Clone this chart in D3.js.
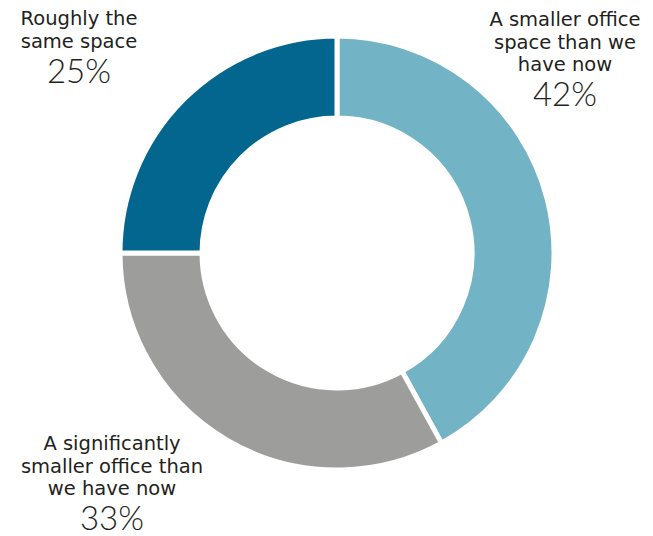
<!DOCTYPE html>
<html>
<head>
<meta charset="utf-8">
<script src="https://d3js.org/d3.v7.min.js"></script>
<style>
  body { margin: 0; background: #fff; }
  text { fill: #231f20; }
  .lbl { font-family: "DejaVu Sans", "Noto Sans", sans-serif; }
  .pct { font-family: Lato, "Noto Sans", sans-serif; }
</style>
</head>
<body>
<div id="chart"></div>
<script>
// slices in clockwise order starting at 12 o'clock
var categories = ['A smaller office space than we have now', 'A significantly smaller office than we have now', 'Roughly the same space']
var values = [42, 33, 25]
var colors = ['#72b3c5', '#9d9d9c', '#03668f']
// label lines, broken as in the picture
var labelLines = [
    ['A smaller office', 'space than we', 'have now'],
    ['A significantly', 'smaller office than', 'we have now'],
    ['Roughly the', 'same space']
]

var width = 653, height = 536
var cx = 337, cy = 253
var outerR = 217, innerR = 135

var svg = d3.select("#chart")
            .append("svg")
            .attr("width", width)
            .attr("height", height)

var g = svg.append("g")
            .attr("transform", "translate(" + cx + "," + cy + ")")

var pie = d3.pie()
            .sort(null)
            .value(function(d){ return d.value })

var arc = d3.arc()
            .innerRadius(innerR)
            .outerRadius(outerR)

var data = categories.map(function(c, i){ return {key: c, value: values[i], color: colors[i]} })

g.selectAll(".slice")
    .data(pie(data))
    .enter()
    .append("path")
        .attr("class", "slice")
        .attr("d", arc)
        .attr("fill", function(d){ return d.data.color })
        .attr("stroke", "#fff")
        .attr("stroke-width", 5)

// label positions (centre x, first baseline y)
var labelPos = [
    {x: 565, y: 26},
    {x: 112, y: 450},
    {x: 79, y: 25}
]

labelLines.forEach(function(lines, i){
    var x = labelPos[i].x, y = labelPos[i].y
    lines.forEach(function(l, j){
        svg.append("text")
            .attr("class", "lbl")
            .attr("text-anchor", "middle")
            .attr("x", x)
            .attr("y", y + j * 22.5)
            .attr("font-size", 19.5)
            .text(l)
    })
    svg.append("text")
        .attr("class", "pct")
        .attr("text-anchor", "middle")
        .attr("x", x)
        .attr("y", y + (lines.length - 1) * 22.5 + 35)
        .attr("font-size", 33)
        .attr("font-weight", 300)
        .text(values[i] + "%")
})
</script>
</body>
</html>
